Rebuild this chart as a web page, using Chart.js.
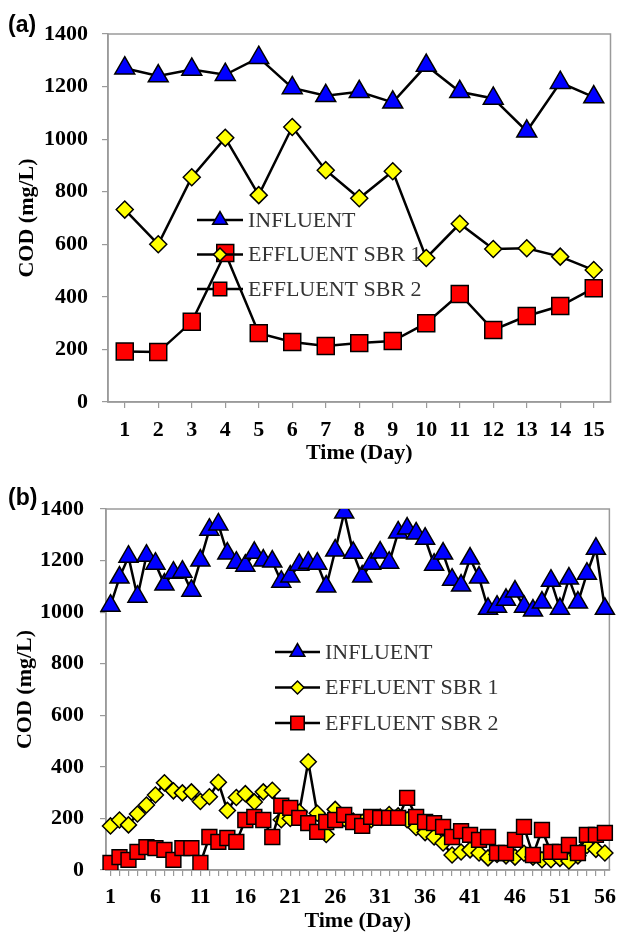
<!DOCTYPE html>
<html>
<head>
<meta charset="utf-8">
<script src="https://cdn.jsdelivr.net/npm/chart.js@4.4.0/dist/chart.umd.min.js"></script>
<style>
  html, body { margin: 0; padding: 0; background: #fff; }
  #wrap { position: relative; width: 624px; height: 935px; }
  canvas { position: absolute; left: 0; }
  #chartA { top: 0; }
  #chartB { top: 467px; }
  .panel { position: absolute; left: 8px; font: bold 23px 'Liberation Sans', Arial, sans-serif; line-height: 26px; }
</style>
</head>
<body>
<div id="wrap">
  <canvas id="chartA" width="624" height="467"></canvas>
  <canvas id="chartB" width="624" height="468"></canvas>
  <div class="panel" style="top:11px">(a)</div>
  <div class="panel" style="top:484px">(b)</div>
</div>
<script>
// panel (a): 15 days
const daysA = ['1', '2', '3', '4', '5', '6', '7', '8', '9', '10', '11', '12', '13', '14', '15'];
const influentA = [1270, 1240, 1265, 1245, 1310, 1195, 1165, 1180, 1140, 1280, 1180, 1155, 1030, 1215, 1160];
const sbr1A = [732, 600, 855, 1005, 787, 1046, 882, 775, 878, 548, 678, 582, 585, 553, 502];
const sbr2A = [192, 190, 305, 567, 262, 228, 213, 224, 232, 300, 411, 274, 327, 365, 433];

// panel (b): 56 days
const daysB = ['1', '2', '3', '4', '5', '6', '7', '8', '9', '10', '11', '12', '13', '14', '15', '16', '17', '18', '19', '20',
  '21', '22', '23', '24', '25', '26', '27', '28', '29', '30', '31', '32', '33', '34', '35', '36', '37', '38', '39', '40',
  '41', '42', '43', '44', '45', '46', '47', '48', '49', '50', '51', '52', '53', '54', '55', '56'];
const influentB = [1025, 1134, 1215, 1060, 1219, 1188, 1107, 1153, 1157, 1083,
  1200, 1320, 1340, 1227, 1192, 1180, 1230, 1200, 1196, 1118,
  1138, 1184, 1192, 1188, 1099, 1239, 1386, 1230, 1138, 1188,
  1231, 1192, 1309, 1324, 1305, 1285, 1184, 1227, 1126, 1103,
  1208, 1134, 1013, 1021, 1048, 1080, 1021, 1006, 1037, 1122,
  1013, 1130, 1037, 1149, 1246, 1013];
const sbr1B = [171, 194, 175, 217, 252, 291, 338, 307, 299, 303,
  266, 284, 340, 231, 281, 296, 264, 303, 309, 195,
  200, 225, 420, 220, 138, 235, 200, 190, 185, 195,
  205, 215, 210, 195, 165, 145, 128, 105, 58, 70,
  78, 66, 47, 60, 55, 50, 65, 50, 40, 40,
  45, 35, 55, 95, 80, 66];
const sbr2B = [27, 50, 39, 70, 89, 85, 78, 39, 85, 85,
  27, 128, 109, 124, 109, 194, 206, 194, 128, 249,
  241, 202, 182, 148, 186, 194, 214, 186, 171, 206,
  202, 202, 202, 280, 206, 186, 182, 167, 128, 151,
  136, 117, 128, 66, 66, 117, 167, 58, 155, 70,
  70, 97, 66, 136, 136, 144];

const yTicks = [0, 200, 400, 600, 800, 1000, 1200, 1400];
const seriesNames = ['INFLUENT', 'EFFLUENT SBR 1', 'EFFLUENT SBR 2'];

const SERIF = "'Liberation Serif', 'Times New Roman', serif";
const AXIS_GREY = '#9a9a9a';

// grey frame round the plot area
const framePlugin = {
    id: 'frame',
    beforeDatasetsDraw(chart) {
        const a = chart.chartArea;
        const ctx = chart.ctx;
        ctx.save();
        ctx.strokeStyle = AXIS_GREY;
        ctx.lineWidth = 1.5;
        ctx.strokeRect(a.left, a.top, a.right - a.left, a.bottom - a.top);
        ctx.restore();
    }
};

// legend sitting inside the plot, line + marker like the original
const insideLegend = {
    id: 'insideLegend',
    afterDatasetsDraw(chart, args, opts) {
        const ctx = chart.ctx;
        ctx.save();
        ctx.font = '22px ' + SERIF;
        ctx.textBaseline = 'middle';
        ctx.textAlign = 'left';
        opts.order.forEach((dsIndex, i) => {
            const ds = chart.data.datasets[dsIndex];
            const y = opts.y + i * opts.gap;
            ctx.strokeStyle = '#000';
            ctx.lineWidth = 2.5;
            ctx.beginPath();
            ctx.moveTo(opts.x, y);
            ctx.lineTo(opts.x + opts.len, y);
            ctx.stroke();
            ctx.fillStyle = ds.pointBackgroundColor;
            ctx.lineWidth = 1.5;
            Chart.helpers.drawPoint(ctx, {
                pointStyle: ds.pointStyle,
                radius: opts.radius[i],
                borderWidth: 1.5,
                rotation: 0
            }, opts.x + opts.len / 2, y);
            ctx.fillStyle = '#333';
            ctx.fillText(ds.label, opts.x + opts.len + 5, y + 1);
        });
        ctx.restore();
    }
};

function makeDatasets(infl, s1, s2, r) {
    return [
        {
            label: seriesNames[0], data: infl, order: 2,
            borderColor: '#000', borderWidth: 2.5,
            pointStyle: 'triangle', pointRadius: r[0],
            pointBackgroundColor: '#0000ff', pointBorderColor: '#000', pointBorderWidth: 1.5
        },
        {
            label: seriesNames[1], data: s1, order: 1,
            borderColor: '#000', borderWidth: 2.5,
            pointStyle: 'rectRot', pointRadius: r[1],
            pointBackgroundColor: '#ffff00', pointBorderColor: '#000', pointBorderWidth: 1.5
        },
        {
            label: seriesNames[2], data: s2, order: 0,
            borderColor: '#000', borderWidth: 2.5,
            pointStyle: 'rect', pointRadius: r[2],
            pointBackgroundColor: '#ff0000', pointBorderColor: '#000', pointBorderWidth: 1.5
        }
    ];
}

function makeOptions(cfg) {
    const tickFont = { family: SERIF, weight: 'bold', size: 22 };
    return {
        responsive: false,
        animation: false,
        devicePixelRatio: 1,
        layout: { padding: { top: cfg.top, right: 10, left: 0, bottom: 0 } },
        plugins: {
            legend: { display: false },
            tooltip: { enabled: false },
            insideLegend: cfg.legend
        },
        scales: {
            x: {
                offset: true,
                grid: { offset: false, drawOnChartArea: false, tickLength: 6, color: AXIS_GREY, lineWidth: 1.2 },
                border: { color: AXIS_GREY, width: 1.5 },
                ticks: {
                    autoSkip: false, maxRotation: 0, padding: cfg.xTickPad, color: '#000', font: tickFont,
                    callback: function (val, idx) {
                        return idx % cfg.every === 0 ? this.getLabelForValue(val) : '';
                    }
                },
                title: {
                    display: true, text: 'Time (Day)', color: '#000',
                    font: { family: SERIF, weight: 'bold', size: 22 },
                    padding: { top: 0, bottom: 0 }
                },
                afterFit: s => { s.height = cfg.xHeight; }
            },
            y: {
                min: 0, max: 1400,
                afterBuildTicks: s => { s.ticks = yTicks.map(v => ({ value: v })); },
                grid: { drawOnChartArea: false, tickLength: 6, color: AXIS_GREY, lineWidth: 1.2 },
                border: { color: AXIS_GREY, width: 1.5 },
                ticks: { padding: cfg.yTickPad, color: '#000', font: tickFont, callback: v => String(v) },
                title: {
                    display: true, text: 'COD (mg/L)', color: '#000',
                    font: { family: SERIF, weight: 'bold', size: 22 },
                    padding: { top: cfg.yTitlePad, bottom: 0 }
                },
                afterFit: s => { s.width = cfg.yWidth; }
            }
        }
    };
}

new Chart(document.getElementById('chartA'), {
    type: 'line',
    data: { labels: daysA, datasets: makeDatasets(influentA, sbr1A, sbr2A, [11.5, 8.5, 12]) },
    options: makeOptions({
        top: 34, every: 1, xHeight: 65, yWidth: 108, xTickPad: 9, yTickPad: 14, yTitlePad: 14,
        legend: { x: 197, y: 220, gap: 34.5, len: 46, order: [0, 1, 2], radius: [8.5, 6.5, 9.5] }
    }),
    plugins: [framePlugin, insideLegend]
});

new Chart(document.getElementById('chartB'), {
    type: 'line',
    data: { labels: daysB, datasets: makeDatasets(influentB, sbr1B, sbr2B, [11, 8, 10.5]) },
    options: makeOptions({
        top: 42, every: 5, xHeight: 65, yWidth: 106, xTickPad: 8, yTickPad: 16, yTitlePad: 12,
        legend: { x: 275, y: 185, gap: 35.5, len: 45, order: [0, 1, 2], radius: [8.5, 6.5, 9.5] }
    }),
    plugins: [framePlugin, insideLegend]
});
</script>
</body>
</html>
